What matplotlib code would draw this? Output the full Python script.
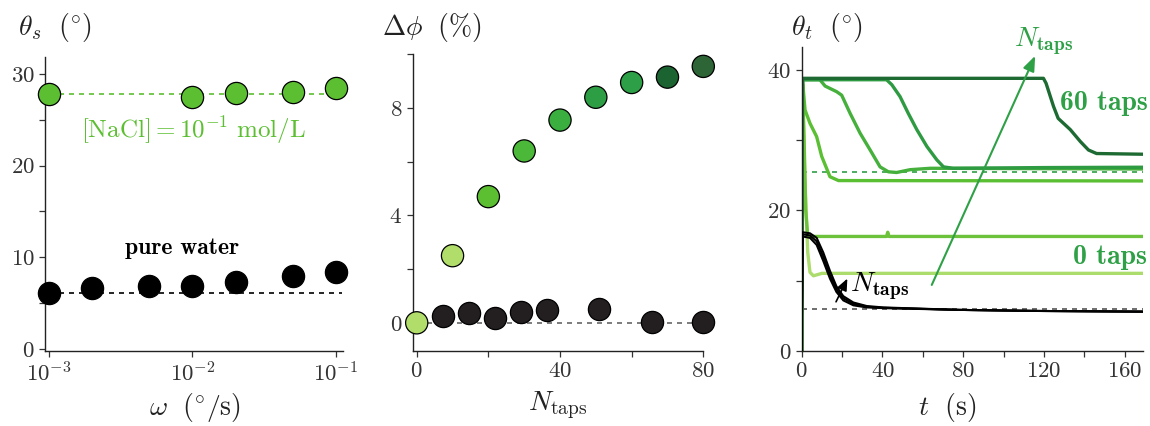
import numpy as np
import matplotlib
matplotlib.use("Agg")
import matplotlib.pyplot as plt
from matplotlib.ticker import MultipleLocator, NullLocator, FixedLocator

plt.rcParams.update({
    "font.family": "serif",
    "font.serif": ["cmr10"],
    "mathtext.fontset": "cm",
    "axes.unicode_minus": False,
    "axes.formatter.use_mathtext": True,
})

# ---- panel (a): static angle vs rotation rate ----
omega_salt = [1e-3, 1e-2, 2e-2, 5e-2, 1e-1]
theta_salt = [27.8, 27.5, 27.9, 28.0, 28.5]
omega_water = [1e-3, 2e-3, 5e-3, 1e-2, 2e-2, 5e-2, 1e-1]
theta_water = [6.1, 6.6, 6.9, 6.9, 7.3, 7.95, 8.4]
salt_ref = 27.8
water_ref = 6.15

# ---- panel (b): packing fraction change vs number of taps ----
ntaps_salt = [0, 10, 20, 30, 40, 50, 60, 70, 80]
dphi_salt = [0.0, 2.5, 4.7, 6.4, 7.55, 8.4, 8.95, 9.15, 9.55]
colors_salt = ["#b1dd6b", "#b1dd6b", "#5cbf32", "#4cb83a", "#3aae3f",
               "#2e9e45", "#2c9f47", "#1b6330", "#2e6536"]
ntaps_water = [7.3, 14.5, 21.9, 29.1, 36.4, 50.9, 65.6, 80.0]
dphi_water = [0.27, 0.37, 0.19, 0.40, 0.47, 0.50, 0.03, 0.02]

# ---- panel (c): avalanche angle vs time ----
t_60 = [0, 0.4, 60, 119.7, 121, 124.7, 127, 133, 138, 142, 146, 169]
th_60 = [0, 38.8, 38.8, 38.8, 38.1, 34.8, 33.1, 31.5, 29.8, 28.6, 28.1, 28.0]
t_40 = [0, 0.4, 20, 42, 44.6, 48.7, 52.8, 57, 62, 66.9, 70.2, 75, 120, 169]
th_40 = [0, 38.6, 38.6, 38.6, 37.9, 36.2, 33.8, 31.5, 29.1, 27.2, 26.2, 26.0, 26.1, 26.15]
t_20 = [0, 0.4, 9, 11.6, 17.3, 19.8, 24, 28.9, 33.9, 38.8, 42.9, 47, 53.7, 63.6, 169]
th_20 = [0, 38.6, 38.6, 37.7, 36.9, 36.4, 33.8, 31.0, 28.6, 26.2, 25.5, 25.4, 25.8, 26.0, 25.9]
t_10 = [0, 0.4, 1.65, 4.1, 7.4, 9.9, 14, 18.2, 169]
th_10 = [0, 38.5, 34.3, 32.4, 30.5, 27.7, 24.8, 24.25, 24.2]
t_5 = [0, 0.4, 1.2, 2.0, 3.0, 42.0, 42.6, 43.2, 169]
th_5 = [0, 38.0, 30.0, 20.0, 16.3, 16.3, 16.9, 16.3, 16.3]
t_0 = [0, 0.4, 1.5, 3.0, 4.1, 5.8, 10, 169]
th_0 = [0, 37.5, 25.0, 14.0, 11.2, 10.7, 11.05, 11.05]
salt_level = 25.5

t_w = [0, 0.4, 4.1, 7.4, 10.7, 14.0, 17.2, 20.6, 25.6, 32.2, 40.4, 78, 116, 169]
th_w1 = [0, 16.9, 16.75, 16.1, 14.0, 11.4, 9.2, 7.8, 6.9, 6.4, 6.2, 5.85, 5.7, 5.6]
th_w2 = [0, 16.6, 16.45, 15.6, 13.4, 10.8, 8.8, 7.5, 6.7, 6.3, 6.15, 5.85, 5.7, 5.6]
th_w3 = [0, 16.3, 16.1, 15.1, 12.8, 10.3, 8.4, 7.2, 6.5, 6.2, 6.1, 5.85, 5.7, 5.6]
water_level = 6.03

curve_sets = [
    (t_60, th_60, "#1e6a33"),
    (t_40, th_40, "#2e9a42"),
    (t_20, th_20, "#46b03c"),
    (t_10, th_10, "#5bbf33"),
    (t_5, th_5, "#6cc23a"),
    (t_0, th_0, "#acdc6c"),
]

GREEN = "#5cbf32"
DGREEN = "#2ea046"
BLACK = "#231f20"
BOLD = "cmb10"

fig = plt.figure(figsize=(11.5, 4.26), dpi=100)
W, H = 1150, 426


def add_axes(x0, x1, y_top, y_bot):
    return fig.add_axes([x0 / W, 1 - y_bot / H, (x1 - x0) / W, (y_bot - y_top) / H])


def style(ax):
    for s in ("top", "right"):
        ax.spines[s].set_visible(False)
    for s in ("left", "bottom"):
        ax.spines[s].set_linewidth(1.0)
        ax.spines[s].set_color("#222222")
    ax.tick_params(which="both", direction="out", length=4.5, width=0.9,
                   color="#333333", labelsize=16.5, labelcolor="#333333", pad=3)


# panel (a)
ax1 = add_axes(45, 343, 57, 351)
style(ax1)
ax1.set_xscale("log")
ax1.set_xlim(10 ** -3.028, 10 ** -0.951)
ax1.set_ylim(-0.22, 31.85)
ax1.xaxis.set_major_locator(FixedLocator([1e-3, 1e-2, 1e-1]))
ax1.xaxis.set_minor_locator(NullLocator())
ax1.yaxis.set_major_locator(MultipleLocator(10))
ax1.yaxis.set_minor_locator(MultipleLocator(5))
ax1.plot([1e-3, 10 ** -0.955], [salt_ref, salt_ref], ls=(0, (3, 3)), color=GREEN, lw=1.2, zorder=1)
ax1.plot([1e-3, 10 ** -0.955], [water_ref, water_ref], ls=(0, (3, 3)), color="black", lw=1.2, zorder=1)
ax1.plot(omega_salt, theta_salt, "o", ms=16, mfc=GREEN, mec="black", mew=0.9, clip_on=False, zorder=3)
ax1.plot(omega_water, theta_water, "o", ms=16, mfc="black", mec="black", mew=0.9, clip_on=False, zorder=3)
ax1.text(0.0102, 23.9, r"$[\mathrm{NaCl}]=10^{-1}\ \mathrm{mol/L}$", color=GREEN,
         fontsize=18, ha="center", va="center")
ax1.text(0.00845, 11.0, "pure water", family=BOLD, color="black",
         fontsize=17, ha="center", va="center")
fig.text(55 / W, 1 - 27 / H, r"$\theta_s\ \ (^{\circ})$", fontsize=20, ha="center", va="center", color="#222222")
fig.text(195 / W, 1 - 408 / H, r"$\omega\ \ (^{\circ}/\mathrm{s})$", fontsize=20, ha="center", va="center", color="#222222")

# panel (b)
ax2 = add_axes(412.7, 703.3, 54.3, 351)
style(ax2)
ax2.set_xlim(-1.12, 80)
ax2.set_ylim(-1.05, 10.0)
ax2.xaxis.set_major_locator(MultipleLocator(40))
ax2.xaxis.set_minor_locator(MultipleLocator(20))
ax2.yaxis.set_major_locator(MultipleLocator(4))
ax2.yaxis.set_minor_locator(MultipleLocator(2))
ax2.plot([0, 80], [0, 0], ls=(0, (3, 3)), color="#666666", lw=1.2, zorder=1)
ax2.scatter(ntaps_water, dphi_water, s=16 ** 2, c=BLACK, edgecolors="black", linewidths=0.9,
            clip_on=False, zorder=3)
ax2.scatter(ntaps_salt, dphi_salt, s=16 ** 2, c=colors_salt, edgecolors="black", linewidths=0.9,
            clip_on=False, zorder=4)
fig.text(432 / W, 1 - 27 / H, r"$\Delta\phi\ \ (\%)$", fontsize=20, ha="center", va="center", color="#222222")
fig.text(558 / W, 1 - 405 / H, r"$N_{\mathrm{taps}}$", fontsize=20, ha="center", va="center", color="#222222")

# panel (c)
ax3 = add_axes(801.7, 1143, 46.7, 351)
style(ax3)
ax3.set_xlim(0, 169)
ax3.set_ylim(0, 43.3)
ax3.xaxis.set_major_locator(MultipleLocator(40))
ax3.xaxis.set_minor_locator(MultipleLocator(20))
ax3.yaxis.set_major_locator(MultipleLocator(20))
ax3.yaxis.set_minor_locator(MultipleLocator(10))
ax3.plot([0, 169], [salt_level, salt_level], ls=(0, (3, 3)), color=DGREEN, lw=1.2, zorder=1)
ax3.plot([0, 169], [water_level, water_level], ls=(0, (3, 3)), color="#555555", lw=1.2, zorder=1)
for tt, th, c in curve_sets[::-1]:
    ax3.plot(tt, th, color=c, lw=2.4, solid_joinstyle="round", zorder=2)
for th in (th_w1, th_w2, th_w3):
    ax3.plot(t_w, th, color="black", lw=1.5, zorder=3)

ax3.annotate("", xy=(115.6, 42.0), xytext=(64.4, 9.4), annotation_clip=False,
             arrowprops=dict(arrowstyle="-|>,head_length=0.9,head_width=0.35", color=DGREEN, lw=1.5,
                             shrinkA=0, shrinkB=0))
ax3.text(119.7, 44.1, r"$N_{\mathbf{taps}}$", color=DGREEN, fontsize=20, ha="center", va="center", clip_on=False)
ax3.annotate("", xy=(22.6, 10.3), xytext=(17.0, 7.0),
             arrowprops=dict(arrowstyle="-|>,head_length=0.7,head_width=0.3", color="black", lw=1.2,
                             shrinkA=0, shrinkB=0))
ax3.text(38.4, 9.26, r"$N_{\mathbf{taps}}$", color="black", fontsize=20, ha="center", va="center")
ax3.text(149.5, 35.3, "60 taps", family=BOLD, color=DGREEN, fontsize=20, ha="center", va="center")
ax3.text(152.8, 13.35, "0 taps", family=BOLD, color=DGREEN, fontsize=20, ha="center", va="center")
fig.text(827 / W, 1 - 27 / H, r"$\theta_t\ \ (^{\circ})$", fontsize=20, ha="center", va="center", color="#222222")
fig.text(947 / W, 1 - 408 / H, r"$t\ \ (\mathrm{s})$", fontsize=20, ha="center", va="center", color="#222222")

fig.savefig("out.png", dpi=100)
